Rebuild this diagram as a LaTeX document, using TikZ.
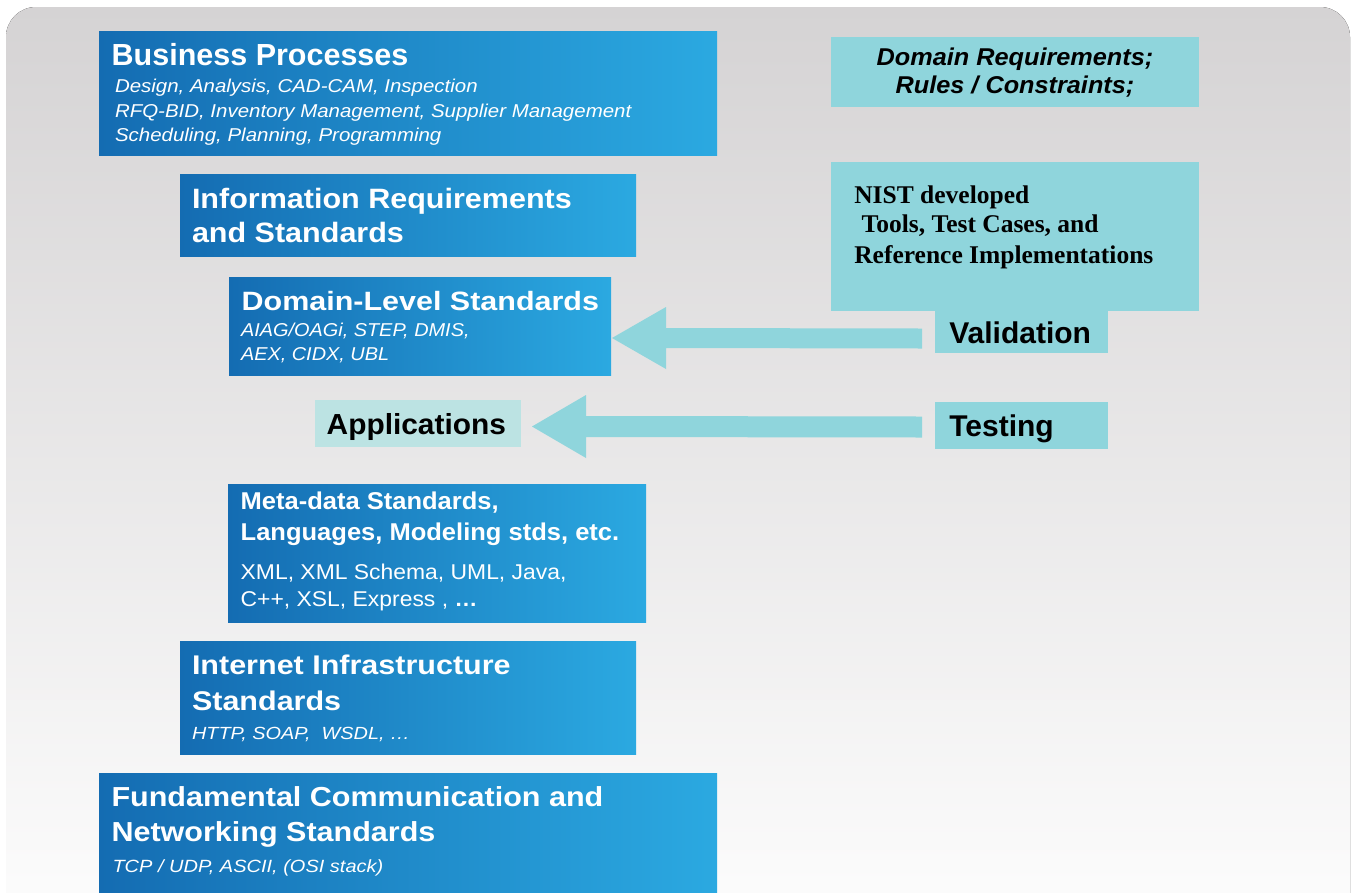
\documentclass[tikz,border=0pt]{standalone}
\usepackage{fontspec}
\usetikzlibrary{calc}
\newfontfamily\hv{Liberation Sans}
\newfontfamily\tms{Liberation Serif}
\newcommand\fnt[2]{\hv\addfontfeature{FakeStretch=#1}\fontsize{#2}{#2}\selectfont}
\definecolor{bgtop}{RGB}{213,211,212}
\definecolor{bgbot}{RGB}{253,253,253}
\definecolor{blueL}{RGB}{20,108,178}
\definecolor{blueR}{RGB}{43,169,225}
\definecolor{tealc}{RGB}{143,213,220}
\definecolor{tealL}{RGB}{188,227,227}
\begin{document}
\begin{tikzpicture}[x=1pt,y=-1pt,
  bluebox/.style={draw=none,left color=blueL,right color=blueR,inner sep=0,outer sep=0,anchor=north west},
  tealbox/.style={draw=none,fill=tealc,inner sep=0,outer sep=0,anchor=north west},
  lbl/.style={inner sep=0,outer sep=0,anchor=base west,text=white},
  dlbl/.style={inner sep=0,outer sep=0,anchor=base west,text=black},
  clbl/.style={inner sep=0,outer sep=0,anchor=base,text=black},
  arrowfill/.style={fill=tealc,draw=none}]
\useasboundingbox (0,0) rectangle (1351,892);
\fill[top color=bgtop,bottom color=bgbot,rounded corners=30] (6,7) rectangle (1350,930);

% blue boxes
\node[bluebox,minimum width=618,minimum height=124] (bp) at (99,31) {};
\node[bluebox,minimum width=456,minimum height=82] (ir) at (180,174) {};
\node[bluebox,minimum width=382,minimum height=98] (dom) at (229,277) {};
\node[bluebox,minimum width=418,minimum height=138] (meta) at (228,484) {};
\node[bluebox,minimum width=456,minimum height=113] (inet) at (180,641) {};
\node[bluebox,minimum width=618,minimum height=119] (fund) at (99,773) {};

% teal boxes
\node[tealbox,fill=tealL,minimum width=206,minimum height=47] (app) at (315,400) {};
\node[tealbox,minimum width=368,minimum height=70] (dreq) at (831,37) {};
\node[tealbox,minimum width=368,minimum height=149] (nist) at (831,162) {};
\node[tealbox,minimum width=173,minimum height=43] (valid) at (935,310) {};
\node[tealbox,minimum width=173,minimum height=47] (test) at (935,402) {};

% arrows
\coordinate (t1) at ($(dom.east)+(1,12)$);
\coordinate (e1) at ($(valid.west)+(-13,7)$);
\fill[arrowfill] (t1) -- ++(54,-31) -- ++(0,21) -- ($(e1)+(0,-10)$) -- ($(e1)+(0,10)$)
  -- ($(t1)+(54,10)$) -- ++(0,21) -- cycle;
\coordinate (t2) at ($(app.east)+(11,3)$);
\coordinate (e2) at ($(test.west)+(-13,1.5)$);
\fill[arrowfill] (t2) -- ++(54,-31.5) -- ++(0,21) -- ($(e2)+(0,-10.5)$) -- ($(e2)+(0,10.5)$)
  -- ($(t2)+(54,10.5)$) -- ++(0,21) -- cycle;

% Business Processes
\node[lbl,font={\fnt{1.0}{30.5}\bfseries}] (bpt) at (111.7,65) {Business Processes};
\node[lbl,font={\fnt{1.1}{18.6}\itshape}] (bps1) at (115,92.3) {Design, Analysis, CAD-CAM, Inspection};
\node[lbl,font={\fnt{1.1}{18.6}\itshape}] (bps2) at (115,117) {RFQ-BID, Inventory Management, Supplier Management};
\node[lbl,font={\fnt{1.1}{18.6}\itshape}] (bps3) at (115,141.5) {Scheduling, Planning, Programming};

% Information Requirements
\node[lbl,font={\fnt{1.09}{28}\bfseries}] (irt1) at (192,208) {Information Requirements};
\node[lbl,font={\fnt{1.09}{28}\bfseries}] (irt2) at (192,242.3) {and Standards};

% Domain-Level
\node[lbl,font={\fnt{1.15}{26.5}\bfseries}] (domt) at (241.7,310.5) {Domain-Level Standards};
\node[lbl,font={\fnt{1.07}{18.6}\itshape}] (doms1) at (241,336.7) {AIAG/OAGi, STEP, DMIS,};
\node[lbl,font={\fnt{1.07}{18.6}\itshape}] (doms2) at (241,360.7) {AEX, CIDX, UBL};

% Applications
\node[dlbl,font={\fnt{1.03}{29}\bfseries}] (appt) at (326.7,434) {Applications};

% Meta-data
\node[lbl,font={\fnt{1.05}{24.3}\bfseries}] (metat1) at (240.7,509.3) {Meta-data Standards,};
\node[lbl,font={\fnt{1.05}{24.3}\bfseries}] (metat2) at (240.7,540.7) {Languages, Modeling stds, etc.};
\node[lbl,font={\fnt{1.07}{21.4}}] (metas1) at (240.7,579.3) {XML, XML Schema, UML, Java,};
\node[lbl,font={\fnt{1.07}{21.4}}] (metas2) at (240.7,606) {C++, XSL, Express , \textbf{…}};

% Internet
\node[lbl,font={\fnt{1.13}{27}\bfseries}] (inett1) at (192,674.3) {Internet Infrastructure};
\node[lbl,font={\fnt{1.13}{27}\bfseries}] (inett2) at (192,710) {Standards};
\node[lbl,font={\fnt{1.13}{17.6}\itshape}] (inets) at (192,739.3) {HTTP, SOAP,\ \ WSDL, …};

% Fundamental
\node[lbl,font={\fnt{1.11}{27.5}\bfseries}] (fundt1) at (111.5,806.5) {Fundamental Communication and};
\node[lbl,font={\fnt{1.11}{27.5}\bfseries}] (fundt2) at (111.5,841.7) {Networking Standards};
\node[lbl,font={\fnt{1.13}{17.7}\itshape}] (funds) at (112.5,872.7) {TCP / UDP, ASCII, (OSI stack)};

% Domain requirements
\node[clbl,font={\fnt{1.04}{24.3}\bfseries\itshape}] (dreq1) at (1015,65.7) {Domain Requirements;};
\node[clbl,font={\fnt{1.04}{24.3}\bfseries\itshape}] (dreq2) at (1015,93.3) {Rules / Constraints;};

% NIST
\node[dlbl,font={\tms\fontsize{25.5}{25.5}\selectfont\bfseries}] (nist1) at (854.3,203) {NIST developed};
\node[dlbl,font={\tms\fontsize{25.5}{25.5}\selectfont\bfseries}] (nist2) at (861.7,232.5) {Tools, Test Cases, and};
\node[dlbl,font={\tms\fontsize{25.5}{25.5}\selectfont\bfseries}] (nist3) at (854.3,263) {Reference Implementations};

% Validation / Testing
\node[dlbl,font={\fnt{1.0}{30}\bfseries}] (validt) at (949.3,343.3) {Validation};
\node[dlbl,font={\fnt{1.0}{30}\bfseries}] (testt) at (949.3,436.7) {Testing};
\end{tikzpicture}
\end{document}
